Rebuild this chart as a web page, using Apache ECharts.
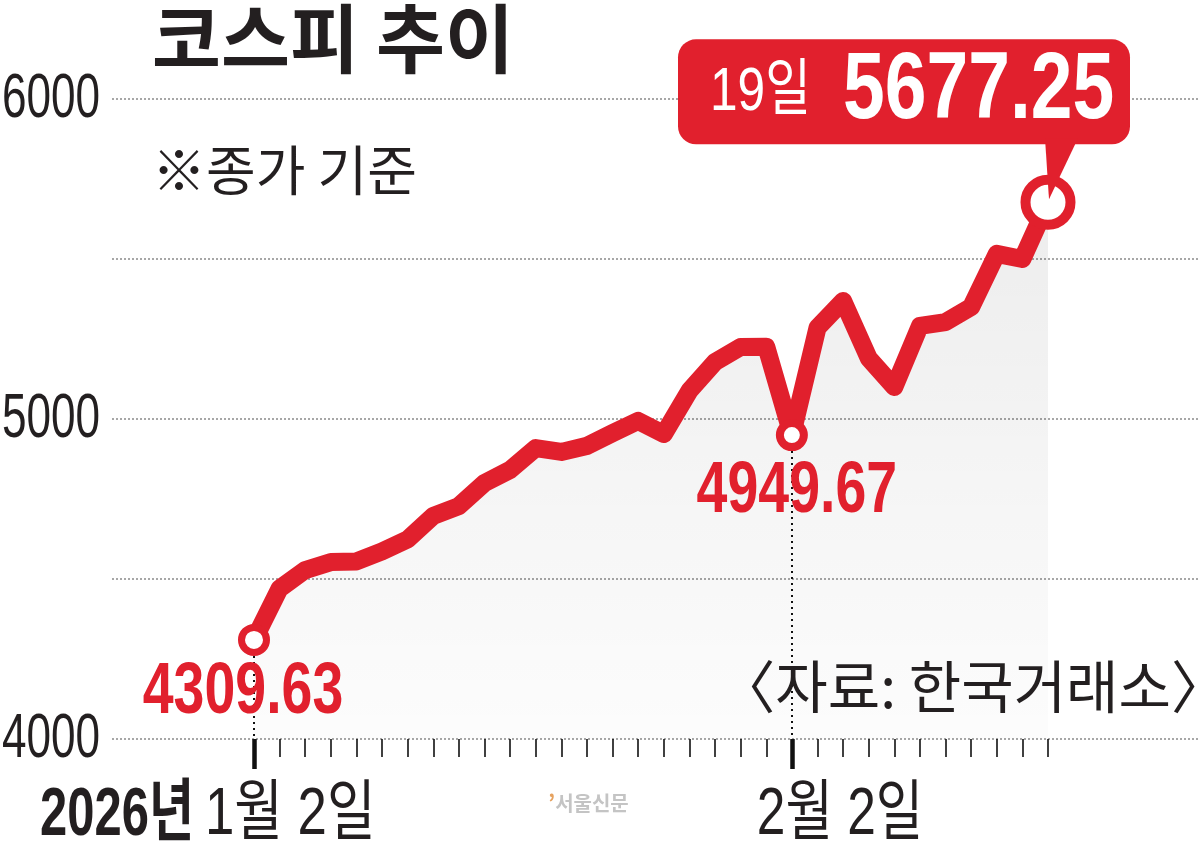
<!DOCTYPE html>
<html><head><meta charset="utf-8">
<script src="https://cdn.jsdelivr.net/npm/echarts@6/dist/echarts.min.js"></script>
<style>html,body{margin:0;padding:0;background:#fff}#c{width:1200px;height:845px}</style>
</head><body><div id="c"></div>
<script>
// ---- data ----
const dates = ['1/2','1/5','1/6','1/7','1/8','1/9','1/12','1/13','1/14','1/15','1/16',
  '1/19','1/20','1/21','1/22','1/23','1/26','1/27','1/28','1/29','1/30',
  '2/2','2/3','2/4','2/5','2/6','2/9','2/10','2/11','2/12','2/13','2/19'];
const values = [4309.63, 4470, 4528, 4553, 4555, 4586, 4624, 4697, 4728, 4800, 4841,
  4909, 4897, 4916, 4956, 4994, 4953, 5088, 5178, 5225, 5226,
  4949.67, 5285, 5369, 5190, 5100, 5291, 5303, 5350, 5516, 5500, 5677.25];
const yTicks = [4000, 4500, 5000, 5500, 6000];
const yTickLabels = [4000, 5000, 6000];
const titleText = '코스피 추이';
const noteText = '※종가 기준';
const sourceText = '〈자료: 한국거래소〉';
const yearText = '2026년';
const startDateText = '1월 2일';
const midDateText = '2월 2일';
const lastDayText = '19일';
const markedIdx = [0, 21, 31];
const majorTickIdx = [0, 21];

// ---- style ----
const RED = '#e1202d';
const INK = '#231f20';
const NUM = "'Liberation Sans', 'Noto Sans CJK KR', sans-serif";
const KR = "'Noto Sans CJK KR', sans-serif";

const chart = echarts.init(document.getElementById('c'), null, {renderer: 'canvas'});

const markerStyle = {
  0: {size: 25, border: 7},
  21: {size: 24, border: 8},
  31: {size: 45, border: 10}
};
const seriesData = values.map((v, i) => {
  if (markedIdx.indexOf(i) < 0) return {value: v, symbol: 'none'};
  const m = markerStyle[i];
  return {value: v, symbol: 'circle', symbolSize: m.size,
    itemStyle: {color: '#fff', borderColor: RED, borderWidth: m.border}};
});

const pxPerVal = 640 / (yTicks[yTicks.length - 1] - yTicks[0]);
const dotLines = majorTickIdx.map(i => {
  const r = (markerStyle[i].size + markerStyle[i].border) / 2;
  return [{coord: [i, values[i] - r / pxPerVal]}, {coord: [i, yTicks[0]]}];
});

const tickBase = {gridIndex: 1, type: 'category', data: dates, boundaryGap: false, position: 'bottom',
  axisLine: {show: false}, axisLabel: {show: false}, splitLine: {show: false}};

chart.setOption({
  animation: false,
  backgroundColor: '#fff',
  grid: [
    {left: 112, right: 0, top: 99, bottom: 106},
    {left: 254, right: 152, top: 99, bottom: 106}
  ],
  xAxis: [
    {gridIndex: 0, type: 'value', min: 0, max: 1, show: false},
    Object.assign({}, tickBase, {
      axisTick: {show: true, interval: 0, length: 18, lineStyle: {color: '#111', width: 1.6}}}),
    Object.assign({}, tickBase, {
      axisTick: {show: true, interval: (idx) => majorTickIdx.indexOf(idx) >= 0, length: 30,
        lineStyle: {color: '#111', width: 4.5}}})
  ],
  yAxis: [
    {gridIndex: 0, type: 'value', min: yTicks[0], max: yTicks[yTicks.length - 1],
      interval: yTicks[1] - yTicks[0],
      axisLine: {show: false}, axisTick: {show: false}, axisLabel: {show: false},
      splitLine: {show: true, lineStyle: {color: '#8a8a8a', width: 1.5, type: [2, 2]}}},
    {gridIndex: 1, type: 'value', min: yTicks[0], max: yTicks[yTicks.length - 1], show: false,
      splitLine: {show: false}}
  ],
  series: [{
    type: 'line', xAxisIndex: 1, yAxisIndex: 1, data: seriesData,
    showSymbol: true, showAllSymbol: true, z: 3,
    lineStyle: {color: RED, width: 18, join: 'round', cap: 'round'},
    areaStyle: {origin: 'start', color: new echarts.graphic.LinearGradient(0, 0, 0, 1, [
      {offset: 0, color: 'rgba(0,0,0,0.10)'}, {offset: 1, color: 'rgba(0,0,0,0.015)'}])},
    markLine: {silent: true, symbol: 'none', label: {show: false}, z: 1,
      lineStyle: {color: '#111', width: 2, type: [2, 4]}, data: dotLines}
  }]
});

const toPx = (i, v) => chart.convertToPixel({xAxisIndex: 1, yAxisIndex: 1}, [i, v]);
const last = values.length - 1;
const p = toPx(last, values[last]);
const p0 = toPx(0, values[0]);
const p21 = toPx(majorTickIdx[1], values[majorTickIdx[1]]);
const t0 = toPx(0, yTicks[0]);
const t21 = toPx(majorTickIdx[1], yTicks[0]);

const g = [];
// y-axis tick labels (condensed)
yTickLabels.forEach(v => {
  const py = chart.convertToPixel({yAxisIndex: 0}, v);
  g.push({type: 'text', x: 100, y: py + 1, scaleX: 0.7, z: 10,
    style: {text: String(v), fill: INK, font: "63px " + NUM, textAlign: 'right', textVerticalAlign: 'middle'}});
});
// value labels
g.push({type: 'text', x: p0[0] - 11, y: p0[1] + 53, scaleX: 0.76, z: 10,
  style: {text: values[0].toFixed(2), fill: RED, font: "bold 73px " + NUM, textAlign: 'center', textVerticalAlign: 'middle'}});
g.push({type: 'text', x: p21[0] + 5, y: p21[1] + 57, scaleX: 0.76, z: 10,
  style: {text: values[majorTickIdx[1]].toFixed(2), fill: RED, font: "bold 73px " + NUM, textAlign: 'center', textVerticalAlign: 'middle'}});
// titles / notes
g.push({type: 'text', x: 152, y: 38, z: 10,
  style: {text: titleText, fill: INK, font: "bold 75px " + KR, textVerticalAlign: 'middle'}});
g.push({type: 'text', x: 152, y: 170, z: 10,
  style: {text: noteText, fill: INK, font: "54px " + KR, textVerticalAlign: 'middle'}});
g.push({type: 'text', x: 1228, y: 686, z: 10,
  style: {text: sourceText, fill: INK, font: "57px " + KR, textAlign: 'right', textVerticalAlign: 'middle'}});
// x-axis labels
g.push({type: 'text', x: t0[0] - 214, y: 816, scaleX: 0.72, z: 10,
  style: {text: yearText, fill: INK, font: "bold 68px " + NUM, textVerticalAlign: 'middle'}});
g.push({type: 'text', x: t0[0] - 49, y: 816, scaleX: 0.8, z: 10,
  style: {text: startDateText, fill: INK, font: "66px " + NUM, textVerticalAlign: 'middle'}});
g.push({type: 'text', x: t21[0] - 35, y: 816, scaleX: 0.78, z: 10,
  style: {text: midDateText, fill: INK, font: "66px " + NUM, textVerticalAlign: 'middle'}});
// watermark
g.push({type: 'text', x: 548, y: 803, z: 1,
  style: {text: '{a|’}{b|서울신문}', textVerticalAlign: 'middle',
    rich: {a: {fill: '#e6a25f', font: "bold 22px " + KR}, b: {fill: '#c4c4c4', font: "bold 20px " + KR}}}});
// callout
g.push({type: 'rect', z: 20, shape: {x: p[0] - 370, y: p[1] - 163, width: 452, height: 105, r: 18},
  style: {fill: RED}});
g.push({type: 'polygon', z: 20, shape: {points: [[p[0] - 3, p[1] - 64], [p[0] + 30, p[1] - 64], [p[0] + 1, p[1] - 3]]},
  style: {fill: RED}});
g.push({type: 'text', z: 21, x: p[0] - 338, y: p[1] - 109, scaleX: 0.8,
  style: {text: lastDayText, fill: '#fff', font: "62px " + NUM, textVerticalAlign: 'middle'}});
g.push({type: 'text', z: 21, x: p[0] - 205, y: p[1] - 110, scaleX: 0.79,
  style: {text: values[last].toFixed(2), fill: '#fff', font: "bold 95px " + NUM, textVerticalAlign: 'middle'}});

chart.setOption({graphic: g});
</script></body></html>
